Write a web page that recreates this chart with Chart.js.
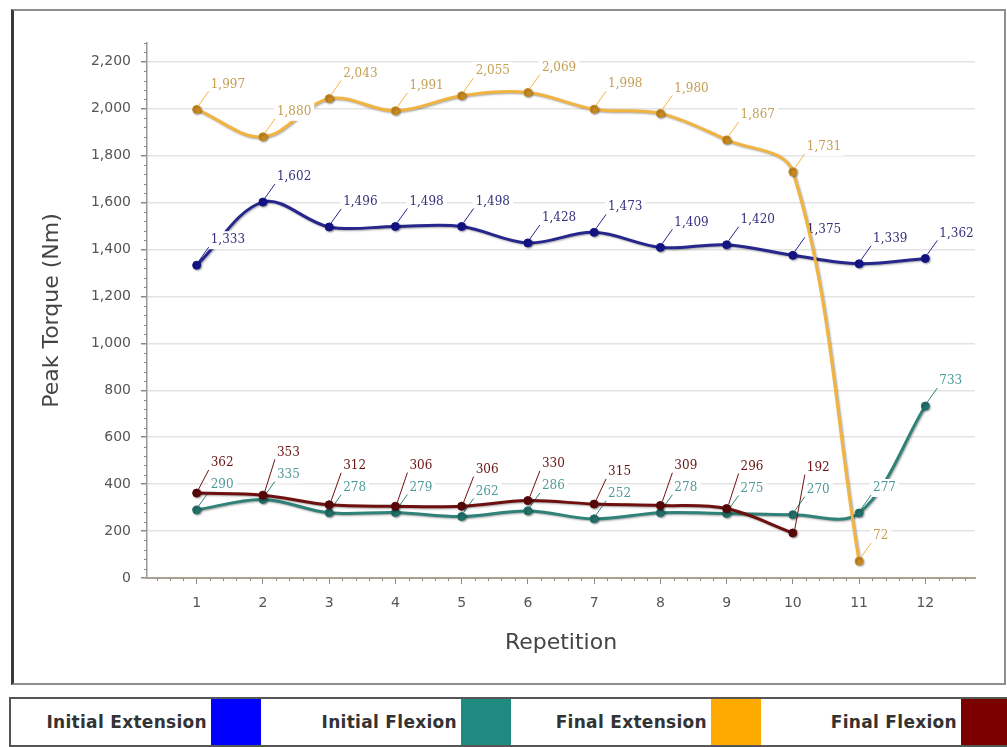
<!DOCTYPE html>
<html>
<head>
<meta charset="utf-8">
<script src="https://cdn.jsdelivr.net/npm/chart.js@4.4.1/dist/chart.umd.min.js"></script>
<style>
  html, body { margin: 0; padding: 0; background: #fff; width: 1007px; height: 747px; overflow: hidden; }
  #frame { position: absolute; left: 11px; top: 9px; width: 990px; height: 672px;
           border: 2px solid #8e8e8e; border-left: 3px solid #3a3a3a; }
  #wrap { position: absolute; left: 0; top: 0; width: 1007px; height: 690px; }
  #legend { position: absolute; left: 9px; top: 697px; width: 1004px; height: 46px;
            border: 2px solid #555; display: flex; }
  .item { flex: 0 0 250px; display: flex; justify-content: flex-end; }
  .item span { align-self: center; font: bold 17px "DejaVu Sans", sans-serif; letter-spacing: 0.3px; color: #333; margin-right: 4px; }
  .item i { display: block; width: 50px; }
</style>
</head>
<body>
<div id="frame"></div>
<div id="wrap"><canvas id="chart" width="1007" height="690"></canvas></div>
<div id="legend"></div>
<script>
// Peak torque per repetition, four test phases
const repetitions = [1, 2, 3, 4, 5, 6, 7, 8, 9, 10, 11, 12];
const initialExtension = [1333, 1602, 1496, 1498, 1498, 1428, 1473, 1409, 1420, 1375, 1339, 1362];
const initialFlexion   = [290, 335, 278, 279, 262, 286, 252, 278, 275, 270, 277, 733];
const finalExtension   = [1997, 1880, 2043, 1991, 2055, 2069, 1998, 1980, 1867, 1731, 72, null];
const finalFlexion     = [362, 353, 312, 306, 306, 330, 315, 309, 296, 192, null, null];
const yTickValues = [0, 200, 400, 600, 800, 1000, 1200, 1400, 1600, 1800, 2000, 2200];

const seriesNames = ['Initial Extension', 'Initial Flexion', 'Final Extension', 'Final Flexion'];
const seriesValues = [initialExtension, initialFlexion, finalExtension, finalFlexion];
const legendColors = ['#0000ff', '#1e8a80', '#ffaa00', '#7a0000'];
const lineColors   = ['#26268c', '#2f8278', '#f2b440', '#6e1010'];
const pointColors  = ['#14148a', '#24706a', '#c88a20', '#5a0808'];
const labelColors  = ['#33337e', '#4f9a98', '#c4a055', '#6a1414'];

const fmt = v => v.toLocaleString('en-US');

// legend strip under the chart
const legend = document.getElementById('legend');
seriesNames.forEach((n, i) => {
  const d = document.createElement('div');
  d.className = 'item';
  d.innerHTML = '<span>' + n + '</span><i style="background:' + legendColors[i] + '"></i>';
  legend.appendChild(d);
});

// data labels with leader lines; labels that would collide are lifted
let labelPlan = [];
const valueLabels = {
  id: 'valueLabels',
  beforeDatasetsDraw(chart) {
    labelPlan = chart.data.datasets.map(() => []);
    repetitions.forEach((r, j) => {
      const placed = [];
      chart.data.datasets.forEach((ds, i) => {
        const v = seriesValues[i][j];
        if (v == null) return;
        const el = chart.getDatasetMeta(i).data[j];
        let ly = el.y - 25;
        placed.forEach(p => {
          if (Math.abs(ly - p) < 21) ly = p - 22;
        });
        placed.push(ly);
        labelPlan[i].push({ px: el.x, py: el.y, ly, text: fmt(v) });
      });
    });
  },
  beforeDatasetDraw(chart) {
    const ctx = chart.ctx;
    ctx.save();
    ctx.shadowColor = 'rgba(0,0,0,0.35)';
    ctx.shadowBlur = 2;
    ctx.shadowOffsetX = 1;
    ctx.shadowOffsetY = 1;
  },
  afterDatasetDraw(chart, args) {
    const ctx = chart.ctx;
    ctx.restore();
    const i = args.index;
    ctx.save();
    ctx.font = '12px "DejaVu Serif", serif';
    ctx.textBaseline = 'middle';
    ctx.textAlign = 'left';
    labelPlan[i].forEach(l => {
      const lx = l.px + 14;
      const w = ctx.measureText(l.text).width;
      ctx.fillStyle = '#ffffff';
      ctx.fillRect(lx - 3, l.ly - 9, w + 6, 18);
      ctx.strokeStyle = lineColors[i];
      ctx.lineWidth = 1;
      ctx.beginPath();
      ctx.moveTo(l.px + 2, l.py - 4);
      ctx.lineTo(lx - 2, l.ly + 7);
      ctx.stroke();
      ctx.fillStyle = labelColors[i];
      ctx.fillText(l.text, lx, l.ly);
    });
    ctx.restore();
  },
  afterDraw(chart) {
    // minor tick marks on both axes
    const ctx = chart.ctx, xs = chart.scales.x, ys = chart.scales.y;
    ctx.save();
    ctx.strokeStyle = '#8a8a8a';
    ctx.lineWidth = 1;
    ctx.beginPath();
    for (let v = 40; v <= ys.max; v += 40) {
      if (v % 200 === 0) continue;
      const y = Math.round(ys.getPixelForValue(v)) + 0.5;
      ctx.moveTo(xs.left - 3, y);
      ctx.lineTo(xs.left, y);
    }
    for (let k = 2; k * 0.2 < xs.max; k++) {
      if (k % 5 === 0) continue;
      const x = Math.round(xs.getPixelForValue(k * 0.2)) + 0.5;
      ctx.moveTo(x, ys.bottom);
      ctx.lineTo(x, ys.bottom + 3);
    }
    ctx.stroke();
    ctx.restore();
  }
};

const datasets = seriesNames.map((n, i) => ({
  label: n,
  data: repetitions.map((r, j) => ({ x: r, y: seriesValues[i][j] })),
  borderColor: lineColors[i],
  backgroundColor: pointColors[i],
  pointBorderColor: pointColors[i],
  pointRadius: 4,
  pointBorderWidth: 1,
  borderWidth: 3,
  tension: 0.35,
  spanGaps: false,
  order: 4 - i
}));

const tickFont = { family: '"DejaVu Sans", sans-serif', size: 14 };
const titleFont = { family: '"DejaVu Sans", sans-serif', size: 22 };

new Chart(document.getElementById('chart'), {
  type: 'line',
  data: { datasets },
  plugins: [valueLabels],
  options: {
    responsive: false,
    animation: false,
    events: [],
    layout: { padding: { top: 43, right: 32, left: 0, bottom: 0 } },
    plugins: { legend: { display: false }, tooltip: { enabled: false } },
    scales: {
      x: {
        type: 'linear',
        min: 0.25,
        max: 12.75,
        afterBuildTicks: s => { s.ticks = repetitions.map(v => ({ value: v })); },
        afterFit: s => { s.height = 112; },
        ticks: { font: tickFont, color: '#555', padding: 11, maxRotation: 0 },
        grid: { drawOnChartArea: false, drawTicks: true, tickLength: 6, tickColor: '#8a8a8a' },
        border: { color: '#a8a290', width: 2 },
        title: { display: true, text: 'Repetition', font: titleFont, color: '#444', padding: { top: 0, bottom: 34 } }
      },
      y: {
        min: 0,
        max: 2280,
        afterBuildTicks: s => { s.ticks = yTickValues.map(v => ({ value: v })); },
        afterFit: s => { s.width = 147; },
        ticks: { font: tickFont, color: '#555', padding: 10, callback: v => fmt(v) },
        grid: { color: '#e3e3e3', lineWidth: 1.5, tickLength: 6, tickColor: '#8a8a8a' },
        border: { color: '#9a9a9a', width: 1.5 },
        title: { display: true, text: 'Peak Torque (Nm)', font: titleFont, color: '#444', padding: { top: 39, bottom: 0 } }
      }
    }
  }
});
</script>
</body>
</html>
